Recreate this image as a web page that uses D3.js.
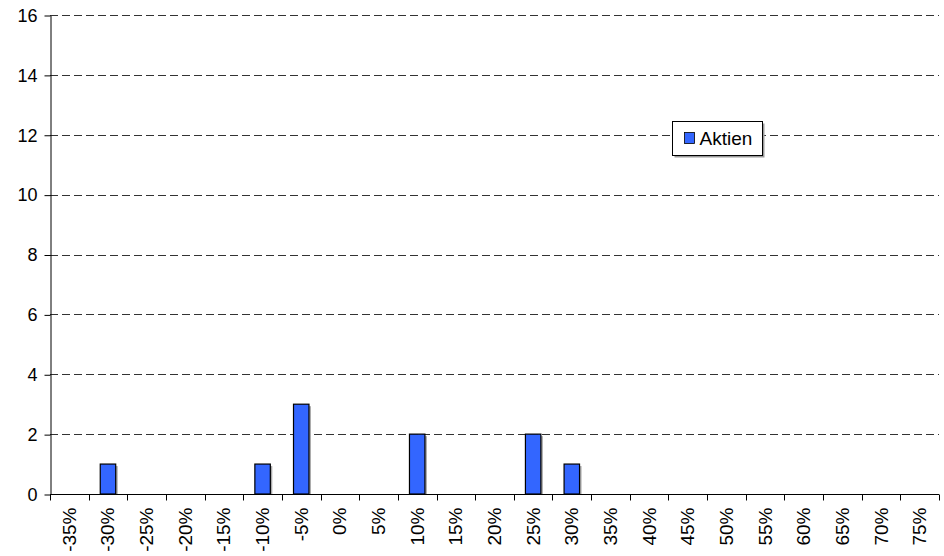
<!DOCTYPE html>
<html>
<head>
<meta charset="utf-8">
<script src="https://cdn.jsdelivr.net/npm/d3@7"></script>
<style>
  html, body { margin: 0; padding: 0; background: #fff; }
  svg { display: block; font-family: "Liberation Sans", Arial, sans-serif; }
</style>
</head>
<body>
<svg id="chart" width="944" height="556"></svg>
<script>
// Return buckets (in %) and how many years fell into each
const categories = ["-35%", "-30%", "-25%", "-20%", "-15%", "-10%", "-5%", "0%", "5%", "10%", "15%", "20%",
  "25%", "30%", "35%", "40%", "45%", "50%", "55%", "60%", "65%", "70%", "75%"];
const aktien = [0, 1, 0, 0, 0, 1, 3, 0, 0, 2, 0, 0, 2, 1, 0, 0, 0, 0, 0, 0, 0, 0, 0];
const yTicks = [0, 2, 4, 6, 8, 10, 12, 14, 16];
const seriesName = "Aktien";

const svg = d3.select("#chart");
const margin = { left: 50, right: 5, top: 15, bottom: 62 };
const W = 944, H = 556;
const x0 = margin.left, x1 = W - margin.right;
const y0 = H - margin.bottom, y1 = margin.top;
const fontFamily = "'Liberation Sans', Arial, sans-serif";

const x = d3.scaleBand().domain(categories).range([x0, x1]).paddingInner(0).paddingOuter(0);
const y = d3.scaleLinear().domain([0, 16]).range([y0, y1]);

// dashed horizontal gridlines
svg.append("g")
  .selectAll("line")
  .data(yTicks.filter(d => d > 0))
  .join("line")
  .attr("x1", x0).attr("x2", x1)
  .attr("y1", d => Math.round(y(d)) + 0.5).attr("y2", d => Math.round(y(d)) + 0.5)
  .attr("stroke", "#333").attr("stroke-width", 1)
  .attr("stroke-dasharray", "8,4");

// y axis
const yAxis = svg.append("g")
  .attr("transform", `translate(${x0 + 0.5},0.5)`)
  .call(d3.axisLeft(y).tickValues(yTicks).tickSize(6).tickSizeOuter(0).tickPadding(7));
yAxis.select(".domain").attr("stroke", "#000");
yAxis.selectAll(".tick line").attr("stroke", "#000");
yAxis.selectAll("text").attr("font-size", 18).attr("fill", "#000")
  .attr("font-family", fontFamily);

// bars with a soft shadow on the right
const barData = categories.map((c, i) => ({ c, v: aktien[i] })).filter(d => d.v > 0);
const bw = x.bandwidth() * 0.4;
const bars = svg.append("g");
bars.selectAll("rect.shadow")
  .data(barData)
  .join("rect")
  .attr("class", "shadow")
  .attr("x", d => x(d.c) + (x.bandwidth() - bw) / 2 + 2)
  .attr("y", d => y(d.v) + 2)
  .attr("width", bw)
  .attr("height", d => y(0) - y(d.v) - 2)
  .attr("fill", "#aaa");
bars.selectAll("rect.bar")
  .data(barData)
  .join("rect")
  .attr("class", "bar")
  .attr("x", d => x(d.c) + (x.bandwidth() - bw) / 2)
  .attr("y", d => y(d.v))
  .attr("width", bw)
  .attr("height", d => y(0) - y(d.v))
  .attr("fill", "#3366FF")
  .attr("stroke", "#000")
  .attr("stroke-width", 1.2);

// x axis: ticks on category boundaries, labels rotated
const xg = svg.append("g").attr("transform", `translate(0,${Math.round(y0) + 0.5})`);
xg.append("line").attr("x1", x0).attr("x2", x1).attr("stroke", "#000");
const bounds = categories.map(c => x(c)).concat([x1]);
xg.selectAll("line.tick")
  .data(bounds)
  .join("line")
  .attr("class", "tick")
  .attr("x1", d => Math.round(d) + 0.5).attr("x2", d => Math.round(d) + 0.5)
  .attr("y1", 0).attr("y2", 6)
  .attr("stroke", "#000");
xg.selectAll("text")
  .data(categories)
  .join("text")
  .attr("transform", d => `translate(${x(d) + x.bandwidth() / 2 + 6.5},13) rotate(-90)`)
  .attr("text-anchor", "end")
  .attr("font-size", 19)
  .attr("font-family", fontFamily)
  .attr("fill", "#000")
  .text(d => d);

// legend
const lg = svg.append("g").attr("transform", "translate(672.5,121.5)");
lg.append("rect").attr("x", 2).attr("y", 2).attr("width", 90).attr("height", 34).attr("fill", "#999");
lg.append("rect").attr("width", 90).attr("height", 34).attr("fill", "#fff").attr("stroke", "#000");
lg.append("rect").attr("x", 12).attr("y", 11).attr("width", 10).attr("height", 11)
  .attr("fill", "#3366FF").attr("stroke", "#000").attr("stroke-width", 0.8);
lg.append("text").attr("x", 27).attr("y", 23.5).attr("font-size", 19).attr("font-family", fontFamily)
  .attr("fill", "#000").text(seriesName);
</script>
</body>
</html>
